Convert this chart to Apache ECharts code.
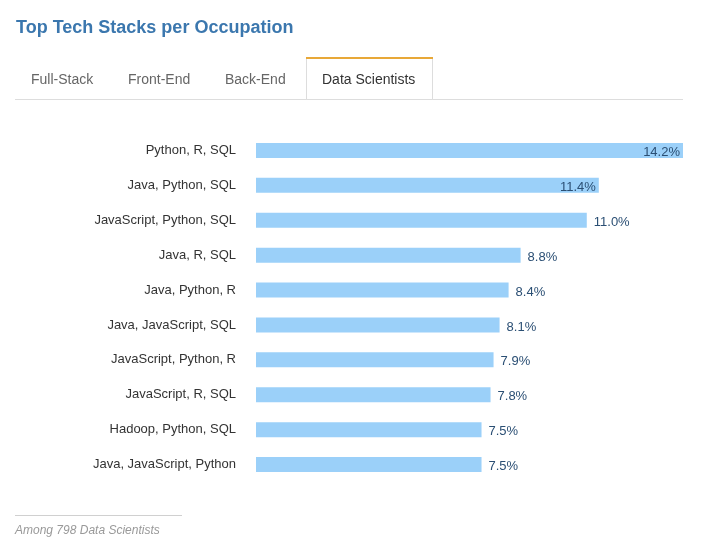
<!DOCTYPE html>
<html>
<head>
<meta charset="utf-8">
<script src="https://cdn.jsdelivr.net/npm/echarts@6/dist/echarts.min.js"></script>
<style>
html,body{margin:0;padding:0;background:#fff;}
#chart{width:704px;height:550px;}
</style>
</head>
<body>
<div id="chart"></div>
<script>
const titleText = 'Top Tech Stacks per Occupation';
const tabs = ['Full-Stack', 'Front-End', 'Back-End', 'Data Scientists'];
const activeTab = 3;
const categories = ['Python, R, SQL','Java, Python, SQL','JavaScript, Python, SQL','Java, R, SQL','Java, Python, R','Java, JavaScript, SQL','JavaScript, Python, R','JavaScript, R, SQL','Hadoop, Python, SQL','Java, JavaScript, Python'];
const values = [14.2, 11.4, 11.0, 8.8, 8.4, 8.1, 7.9, 7.8, 7.5, 7.5];
const footnote = 'Among 798 Data Scientists';

const chart = echarts.init(document.getElementById('chart'), null, {renderer:'canvas'});
const font = '"Liberation Sans", Arial, sans-serif';
const maxVal = Math.max(...values);

const tabX = [31, 128, 225, 322];
const graphics = [
  {type:'text', left:16, top:19, style:{text:titleText, fill:'#3b77ae', font:'bold 18px ' + font}},
  {type:'line', shape:{x1:15,y1:99.5,x2:683,y2:99.5}, style:{stroke:'#dddddd', lineWidth:1}},
  {type:'rect', shape:{x:306.5,y:58.5,width:126,height:41}, style:{fill:'#fff', stroke:'#dddddd', lineWidth:1}},
  {type:'line', shape:{x1:306,y1:58,x2:433,y2:58}, style:{stroke:'#e8a838', lineWidth:2}},
  {type:'line', shape:{x1:15,y1:515.5,x2:182,y2:515.5}, style:{stroke:'#d0d0d0', lineWidth:1}},
  {type:'text', left:15, top:525, style:{text:footnote, fill:'#999', font:'italic 12px ' + font}}
];
tabs.forEach((t,i)=>{
  graphics.push({type:'text', left:tabX[i], top:73, style:{text:t, fill: i===activeTab ? '#333' : '#666', font:'14px ' + font}});
});

chart.setOption({
  animation:false,
  graphic: graphics,
  grid:{left:256, top:133, width:427, height:349, containLabel:false},
  xAxis:{type:'value', min:0, max:maxVal, show:false},
  yAxis:{type:'category', data:categories, inverse:true,
    axisLine:{show:false}, axisTick:{show:false},
    axisLabel:{color:'#333', fontSize:13, fontFamily:font, margin:20}},
  series:[{
    type:'bar', barWidth:15,
    data: values.map(v=>({
      value:v,
      label:{position: v >= 11.2 ? 'insideRight' : 'right', distance: v >= 11.2 ? 3 : 7}
    })),
    itemStyle:{color:'#9bd0f9'},
    label:{show:true, formatter: p => p.value.toFixed(1) + '%', color:'#2b4f74', fontSize:13, fontFamily:font, offset:[0,2]}
  }]
});
</script>
</body>
</html>
